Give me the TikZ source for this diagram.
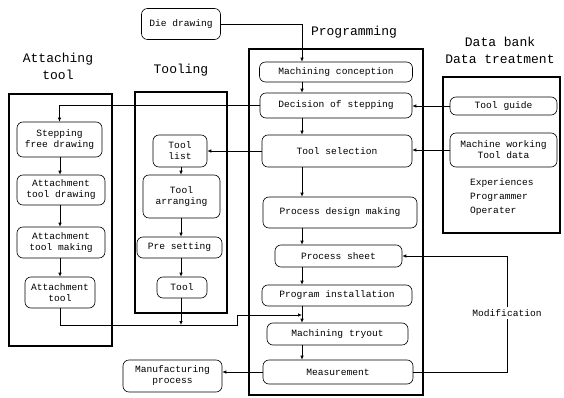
\documentclass[tikz,border=0pt]{standalone}
\usepackage{fontspec}
\setmainfont{Liberation Mono}
\usetikzlibrary{arrows.meta}
\begin{document}
\begin{tikzpicture}[x=1pt,y=-1pt,
  box/.style={draw,line width=0.6pt,rounded corners=6pt,align=center,inner sep=1pt,
    font=\fontsize{9.6}{11}\selectfont},
  frame/.style={draw,line width=1.5pt},
  title/.style={align=center,font=\fontsize{13}{17}\selectfont},
  lbl/.style={font=\fontsize{9.6}{11}\selectfont},
  arr/.style={line width=0.7pt,-{Latex[length=4pt,width=3.5pt]}},
  ln/.style={line width=0.7pt}]
\useasboundingbox (0,0) rectangle (564,398);
% frames
\draw[frame] (9,94) rectangle (112,346);
\draw[frame] (135,92) rectangle (227,313);
\draw[frame] (249,49) rectangle (423,395);
\draw[frame] (443,77) rectangle (560,233);
% titles
\node[title] (t1) at (58,66) {Attaching\\tool};
\node[title] (t2) at (181,70) {Tooling};
\node[title] (t3) at (354,32) {Programming};
\node[title] (t4) at (500,50) {Data bank\\Data treatment};
% programming
\node[box,minimum width=79,minimum height=31] (die) at (181,24) {Die drawing};
\node[box,minimum width=153,minimum height=20] (mc) at (336,72) {Machining conception};
\node[box,minimum width=152,minimum height=25] (ds) at (336,105.5) {Decision of stepping};
\node[box,minimum width=150,minimum height=32] (ts) at (337,151) {Tool selection};
\node[box,minimum width=154,minimum height=31] (pdm) at (340,212.5) {Process design making};
\node[box,minimum width=127,minimum height=22] (ps) at (338.5,256) {Process sheet};
\node[box,minimum width=150,minimum height=21] (pi) at (337,295.5) {Program installation};
\node[box,minimum width=141,minimum height=22] (mt) at (337.5,334) {Machining tryout};
\node[box,minimum width=150,minimum height=24] (ms) at (338,372) {Measurement};
% data bank
\node[box,minimum width=107,minimum height=18] (tg) at (503.5,106) {Tool guide};
\node[box,minimum width=107,minimum height=34] (mw) at (503.5,150) {Machine working\\Tool data};
\node[anchor=north west,align=left,inner sep=0pt,font=\fontsize{9.6}{14}\selectfont] (exp) at (470,178) {Experiences\\Programmer\\Operater};
% attaching tool
\node[box,minimum width=85,minimum height=35] (sfd) at (59.5,139.5) {Stepping\\free drawing};
\node[box,minimum width=88,minimum height=30] (atd) at (61,190) {Attachment\\tool drawing};
\node[box,minimum width=88,minimum height=31] (atm) at (61,242.5) {Attachment\\tool making};
\node[box,minimum width=70,minimum height=31] (at) at (60,292.5) {Attachment\\tool};
% tooling
\node[box,minimum width=54,minimum height=32] (tl) at (180,151) {Tool\\list};
\node[box,minimum width=77,minimum height=43] (ta) at (181.5,196.5) {Tool\\arranging};
\node[box,minimum width=85,minimum height=21] (pre) at (179.5,247.5) {Pre setting};
\node[box,minimum width=50,minimum height=21] (tool) at (182,287.5) {Tool};
\node[box,minimum width=99,minimum height=32] (mp) at (172.5,376) {Manufacturing\\process};
% helper coordinates
\coordinate (fx) at (302,0);
\coordinate (ax) at (60,0);
\coordinate (tx) at (181,0);
\coordinate (j1) at (237,325);
\coordinate (ent) at (302,315);
% programming flow
\draw[arr] (die.east) -| (fx |- mc.north);
\draw[arr] (fx |- mc.south) -- (fx |- ds.north);
\draw[arr] (fx |- ds.south) -- (fx |- ts.north);
\draw[arr] (fx |- ts.south) -- (fx |- pdm.north);
\draw[arr] (fx |- pdm.south) -- (fx |- ps.north);
\draw[arr] (fx |- ps.south) -- (fx |- pi.north);
\draw[arr] (fx |- pi.south) -- (fx |- mt.north);
\draw[arr] (fx |- mt.south) -- (fx |- ms.north);
% data bank links
\draw[arr] (tg.west) -- (ds.east |- tg.west);
\draw[arr] (mw.west) -- (ts.east |- mw.west);
% to attaching tool and tooling
\draw[arr] (ds.west) -| (sfd.north);
\draw[arr] (ts.west) -- (tl.east |- ts.west);
\draw[arr] (ax |- sfd.south) -- (ax |- atd.north);
\draw[arr] (ax |- atd.south) -- (ax |- atm.north);
\draw[arr] (ax |- atm.south) -- (ax |- at.north);
\draw[arr] (tx |- tl.south) -- (tx |- ta.north);
\draw[arr] (tx |- ta.south) -- (tx |- pre.north);
\draw[arr] (tx |- pre.south) -- (tx |- tool.north);
% merge into programming
\draw[arr] (ax |- at.south) |- (j1) |- (ent);
\draw[arr] (tx |- tool.south) -- (tx |- j1);
% measurement outputs
\draw[arr] (ms.west) -- (mp.east |- ms.west);
\node[lbl,inner sep=2pt] (modl) at (507,313) {Modification};
\draw[ln] (ms.east) -| (modl.south);
\draw[arr] (modl.north) |- (ps.east);
\end{tikzpicture}
\end{document}
